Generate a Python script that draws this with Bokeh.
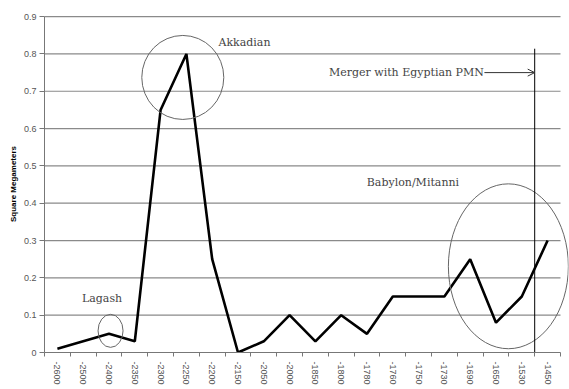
from bokeh.plotting import figure
from bokeh.models import (Range1d, FixedTicker, ColumnDataSource, Arrow, OpenHead,
                          Label)
from bokeh.embed import file_html
from bokeh.resources import INLINE

# ---- data ----
years = ["-2600", "-2500", "-2400", "-2350", "-2300", "-2250", "-2200", "-2150",
         "-2050", "-2000", "-1850", "-1800", "-1780", "-1760", "-1750", "-1730",
         "-1690", "-1650", "-1530", "-1450"]
area = [0.01, 0.03, 0.05, 0.03, 0.65, 0.80, 0.25, 0.0,
        0.03, 0.10, 0.03, 0.10, 0.05, 0.15, 0.15, 0.15,
        0.25, 0.08, 0.15, 0.30]
y_ticks = [0.0, 0.1, 0.2, 0.3, 0.4, 0.5, 0.6, 0.7, 0.8, 0.9]
y_labels = ["0", "0.1", "0.2", "0.3", "0.4", "0.5", "0.6", "0.7", "0.8", "0.9"]

n = len(years)
xs = list(range(n))
bounds = [i - 0.5 for i in range(n + 1)]

p = figure(width=569, height=389, output_backend="svg", toolbar_location=None,
           x_range=Range1d(-0.5, 19.81), y_range=Range1d(0, 0.903),
           min_border_left=44, min_border_right=1, min_border_top=15,
           min_border_bottom=37)
p.outline_line_color = None
p.xgrid.visible = False
p.ygrid.visible = False

# gridlines (bounded to category area)
p.multi_line(xs=[[-0.5, n - 0.5] for _ in y_ticks[1:]],
             ys=[[t, t] for t in y_ticks[1:]],
             line_color="#8a8a8a", line_width=1.2)

# data line
src = ColumnDataSource(dict(x=xs, y=area))
p.line("x", "y", source=src, line_color="black", line_width=2.6)

# x axis
xa = p.xaxis[0]
xa.ticker = FixedTicker(ticks=xs, minor_ticks=bounds)
xa.major_label_overrides = {i: y for i, y in enumerate(years)}
xa.major_label_orientation = "vertical"
xa.major_tick_out = 0
xa.major_tick_in = 0
xa.minor_tick_out = 4
xa.minor_tick_in = 0
xa.minor_tick_line_color = "#777777"
xa.axis_line_color = "#777777"
xa.bounds = (-0.5, n - 0.5)
xa.major_label_standoff = 5
xa.major_label_text_font = "Liberation Sans"
xa.major_label_text_font_size = "9px"
xa.major_label_text_color = "#555555"

# y axis
ya = p.yaxis[0]
ya.ticker = FixedTicker(ticks=y_ticks, minor_ticks=[])
ya.major_label_overrides = {t: l for t, l in zip(y_ticks, y_labels)}
ya.bounds = (0, 0.9)
ya.major_tick_out = 5
ya.major_tick_in = 0
ya.major_tick_line_color = "#777777"
ya.axis_line_color = "#777777"
ya.major_label_standoff = 3
ya.major_label_text_font = "Liberation Sans"
ya.major_label_text_font_size = "9px"
ya.major_label_text_color = "#555555"
ya.axis_label = "Square Megameters"
ya.axis_label_text_font = "Liberation Sans"
ya.axis_label_text_font_size = "8px"
ya.axis_label_text_font_style = "bold"
ya.axis_label_text_color = "black"
ya.axis_label_standoff = 3

# annotations
ann_font = "DejaVu Serif"
p.ellipse(x=[4.86, 2.06, 17.48], y=[0.737, 0.058, 0.231],
          width=[82, 25, 120], height=[84, 33, 165],
          width_units="screen", height_units="screen",
          fill_color=None, line_color="#666666", line_width=1)

for txt, x, y, align in [("Akkadian", 7.25, 0.831, "center"),
                         ("Lagash", 1.73, 0.144, "center"),
                         ("Babylon/Mitanni", 13.78, 0.456, "center"),
                         ("Merger with Egyptian PMN", 16.53, 0.75, "right")]:
    p.add_layout(Label(x=x, y=y, text=txt, text_font=ann_font,
                       text_font_size="11px", text_color="#444444",
                       text_align=align, text_baseline="middle"))

p.segment(x0=[18.5], y0=[0], x1=[18.5], y1=[0.814], line_color="black", line_width=1)
p.add_layout(Arrow(x_start=16.55, y_start=0.75, x_end=18.5, y_end=0.75,
                   line_color="#333333", line_width=1,
                   end=OpenHead(size=7, line_color="#333333", line_width=1)))

open("out.html", "w").write(file_html(p, INLINE))
